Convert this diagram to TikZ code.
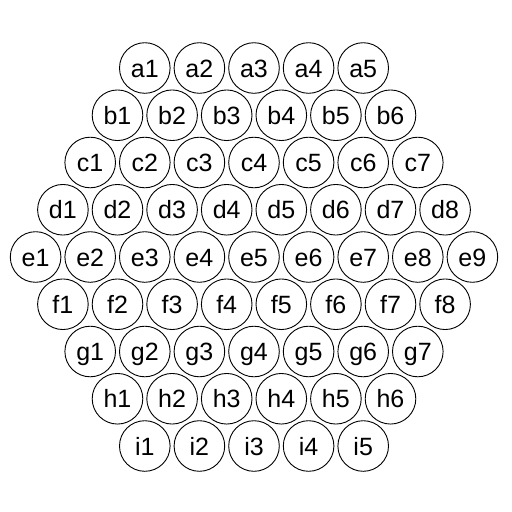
\documentclass[tikz,border=0pt]{standalone}
\usepackage{fontspec}
\setmainfont{Liberation Sans}
\begin{document}
\begin{tikzpicture}[x=1pt,y=-1pt,
  cell/.style={circle,draw=black,line width=0.9pt,minimum size=50.6pt,inner sep=0pt,
    text height=18pt,text depth=0pt,font=\fontsize{25}{27}\selectfont}]
\useasboundingbox (0,0) rectangle (512,512);
\foreach \r/\n/\k in {a/5/0,b/6/1,c/7/2,d/8/3,e/9/4,f/8/5,g/7/6,h/6/7,i/5/8}{
  \foreach \j in {1,...,\n}{
    \node[cell] (\r\j) at ({254+(\j-(\n+1)/2)*54.6},{68+47.25*\k}) {\r\j};
  }
}
\end{tikzpicture}
\end{document}
